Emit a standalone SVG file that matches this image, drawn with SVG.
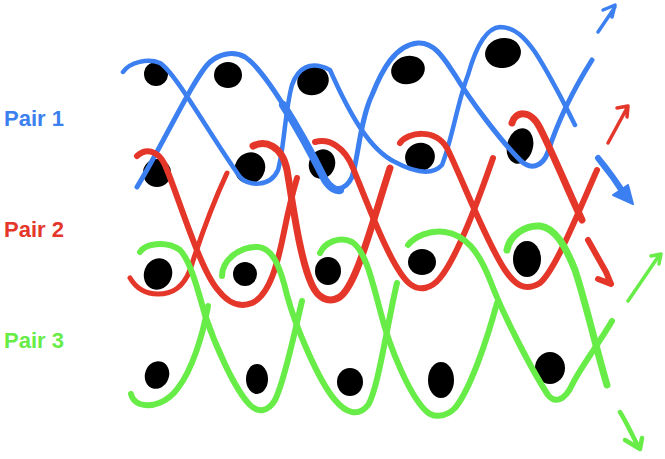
<svg xmlns="http://www.w3.org/2000/svg" width="665" height="459" viewBox="0 0 665 459">
<style>
.lbl{font-family:"Liberation Sans",Arial,sans-serif;font-weight:bold;font-size:22px}
.s{fill:none;stroke-linecap:round;stroke-linejoin:round}
.b{stroke:#3b7ff0}
.r{stroke:#e5362a}
.g{stroke:#68ec48}
.dot{fill:#000}
</style>
<rect width="665" height="459" fill="#fff"/>
<g id="labels">
<text class="lbl" x="4" y="126" fill="#3b7ff0">Pair 1</text>
<text class="lbl" x="4" y="237" fill="#e5362a">Pair 2</text>
<text class="lbl" x="4" y="348" fill="#68ec48">Pair 3</text>
</g>
<g id="dots" class="dot">
<ellipse cx="156" cy="74" rx="12" ry="12"/>
<ellipse cx="228" cy="75" rx="14" ry="13"/>
<ellipse cx="313" cy="81" rx="16" ry="14" transform="rotate(-20 313 81)"/>
<ellipse cx="408" cy="70" rx="17" ry="14" transform="rotate(-15 408 70)"/>
<ellipse cx="503" cy="53" rx="18" ry="15" transform="rotate(-10 503 53)"/>
<ellipse cx="157" cy="173" rx="14" ry="14"/>
<ellipse cx="250" cy="168" rx="15" ry="16" transform="rotate(30 250 168)"/>
<ellipse cx="322" cy="164" rx="13" ry="15" transform="rotate(20 322 164)"/>
<ellipse cx="420" cy="157" rx="15" ry="14" transform="rotate(-20 420 157)"/>
<ellipse cx="520" cy="146" rx="13" ry="18" transform="rotate(15 520 146)"/>
<ellipse cx="158" cy="274" rx="14" ry="16" transform="rotate(20 158 274)"/>
<ellipse cx="245" cy="274" rx="12" ry="12"/>
<ellipse cx="328" cy="271" rx="13" ry="14"/>
<ellipse cx="422" cy="262" rx="14" ry="13"/>
<ellipse cx="527" cy="259" rx="14" ry="18"/>
<ellipse cx="157" cy="375" rx="12" ry="14" transform="rotate(20 157 375)"/>
<ellipse cx="257" cy="379" rx="11" ry="15"/>
<ellipse cx="350" cy="382" rx="13" ry="14"/>
<ellipse cx="441" cy="380" rx="13" ry="18"/>
<ellipse cx="550" cy="368" rx="15" ry="16"/>
</g>
<g id="pair1" class="s b">
<path stroke-width="4.5" d="M123,72 C130,62 148,58 160,63 C175,72 210,135 240,177 C247,186 270,188 278,170 C284,150 285,110 292,85 C298,68 310,60 330,70 C350,115 370,150 395,162 C410,170 430,178 442,165 C452,140 458,100 468,75 C475,50 485,28 500,27 C515,27 525,38 535,52 C550,75 565,105 575,125"/>
<path stroke-width="5" d="M137,187 C160,150 195,75 210,62 C218,55 232,50 245,57 C265,70 300,130 325,180 C332,192 345,192 352,177 C358,160 360,120 372,95 C382,70 395,45 418,43 C435,42 445,60 455,75 C470,100 500,140 520,160 C530,170 542,168 548,152 C555,130 570,95 592,60"/>
<path stroke-width="8" d="M283,105 C297.5,127.5 312.5,155 325,180 C330,188 336,191 340,190"/>
</g>
<g id="pair2" class="s r">
<path stroke-width="6" d="M137,156 C146,148 158,150 165,165 C178,195 200,270 218,290 C228,303 240,308 252,303 C270,295 278,262 284,232 C288,212 292,195 297,178"/>
<path stroke-width="5" d="M227,173 C212,205 198,245 190,270 C183,288 172,294 158,294 C146,294 136,288 130,278"/>
<path stroke-width="7" d="M253,146 C265,140 282,145 287,170 C293,205 300,260 312,285 C318,298 328,303 338,298 C355,290 370,230 390,168"/>
<path stroke-width="6" d="M315,142 C330,138 345,148 353,168 C368,205 392,270 410,284 C420,292 432,288 440,278 C455,260 475,210 493,158"/>
<path stroke-width="6" d="M400,143 C408,132 435,128 447,148 C462,178 485,240 505,270 C515,285 525,292 540,283 C555,270 575,220 597,170"/>
<path stroke-width="7" d="M512,123 C515,112 530,108 540,128 C555,158 570,195 582,220"/>
</g>
<g id="pair3" class="s g">
<path stroke-width="6" d="M140,252 C145,244 165,240 180,250 C190,260 198,290 205,315 C215,345 235,390 250,405 C258,413 268,412 275,400 C285,380 295,330 302,301"/>
<path stroke-width="6" d="M208,306 C203,335 192,370 178,388 C168,402 152,408 140,404 C135,402 132,399 131,394"/>
<path stroke-width="6" d="M222,276 C222,260 240,246 258,247 C272,248 280,265 287,295 C295,325 318,380 335,400 C345,412 358,418 368,405 C378,390 388,320 397,283"/>
<path stroke-width="6" d="M320,253 C325,242 340,236 352,242 C365,250 372,280 380,310 C390,350 410,395 425,410 C432,418 445,418 455,408 C470,390 487,340 497,303"/>
<path stroke-width="7" d="M507,250 C510,235 525,225 540,226 C555,228 565,245 575,270 C585,300 598,355 607,385"/>
<path stroke-width="6" d="M408,245 C415,236 430,230 445,232 C465,235 478,250 490,280 C505,320 535,375 548,395 C555,404 565,400 572,385 C580,368 598,345 612,321"/>
</g>
<g id="arrows" class="s">
<path class="b" stroke-width="3.5" d="M598,32 L615,7 M603,10 L615,5 L612,17"/>
<path class="b" stroke-width="6" d="M598,158 C608,170 618,184 626,197"/>
<polygon points="613,195 633,204 628,185" fill="#3b7ff0" stroke="#3b7ff0" stroke-width="2" stroke-linejoin="round"/>
<path class="r" stroke-width="3.5" d="M608,143 L627,108 M617,108 L628,106 L627,117"/>
<path class="r" stroke-width="6" d="M588,240 L606,272 L611,284 L598,279"/>
<path class="g" stroke-width="3.5" d="M628,301 L658,257 M651,256 L661,254 L659,264"/>
<path class="g" stroke-width="4.5" d="M620,412 C628,425 633,437 638,446 M625,440 L640,449 L642,438"/>
</g>
</svg>
